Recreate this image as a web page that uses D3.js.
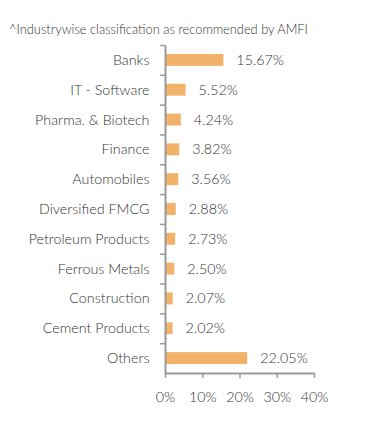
<!DOCTYPE html>
<html><head><meta charset="utf-8">
<script src="https://cdn.jsdelivr.net/npm/d3@7"></script>
<style>
html,body{margin:0;padding:0;background:#fff;}
text{font-family:Lato,sans-serif;font-weight:300;fill:#333;}
</style></head>
<body><svg id="c" width="391" height="426"></svg>
<script>
const categories = ["Banks","IT - Software","Pharma. & Biotech","Finance","Automobiles","Diversified FMCG","Petroleum Products","Ferrous Metals","Construction","Cement Products","Others"];
const values = [15.67,5.52,4.24,3.82,3.56,2.88,2.73,2.50,2.07,2.02,22.05];
const xTicks = [0,10,20,30,40];
const title = "^Industrywise classification as recommended by AMFI";

const svg = d3.select("#c");
const mLeft = 165, mRight = 314, mTop = 45, mBottom = 373;

svg.append("text").attr("x",9).attr("y",34).attr("font-size",12.85).text(title);

const x = d3.scaleLinear().domain([0,40]).range([mLeft,mRight]);
const y = d3.scaleBand().domain(categories).range([mTop,mBottom]).paddingInner(0.6).paddingOuter(0.3);
const yl = d3.scaleLinear().domain([0,categories.length]).range([mTop,mBottom]);

svg.selectAll("rect.bar").data(values).join("rect").attr("class","bar")
  .attr("x",x(0)).attr("y",(d,i)=>y(categories[i]))
  .attr("width",d=>x(d)-x(0)).attr("height",y.bandwidth())
  .attr("fill","#f2b26a");

svg.selectAll("text.val").data(values).join("text").attr("class","val")
  .attr("x",d=>x(d)+13).attr("y",(d,i)=>y(categories[i])+y.bandwidth()/2)
  .attr("dy","0.35em").attr("font-size",14.3)
  .text(d=>d.toFixed(2)+"%");

svg.selectAll("text.cat").data(categories).join("text").attr("class","cat")
  .attr("x",149.5).attr("y",d=>y(d)+y.bandwidth()/2)
  .attr("dy","0.35em").attr("text-anchor","end").attr("font-size",14.3)
  .text(d=>d);

const ga = svg.append("g").attr("transform",`translate(${mLeft},0)`)
  .call(d3.axisLeft(yl).tickValues(d3.range(0,categories.length)).tickSize(5).tickSizeOuter(0).tickFormat(""));
ga.select(".domain").attr("stroke","#999").attr("stroke-width",2);
ga.selectAll(".tick line").attr("stroke","#999").attr("stroke-width",1.5);

const gx = svg.append("g").attr("transform",`translate(0,${mBottom})`)
  .call(d3.axisBottom(x).tickValues(xTicks).tickSize(5).tickSizeOuter(0).tickFormat(d=>d+"%"));
gx.select(".domain").attr("stroke","#999").attr("stroke-width",2);
gx.selectAll(".tick line").attr("stroke","#999").attr("stroke-width",1.5);
gx.selectAll(".tick text").attr("font-size",14.3).attr("font-family","Lato,sans-serif").attr("fill","#333").attr("dy","1.45em");
</script></body></html>
